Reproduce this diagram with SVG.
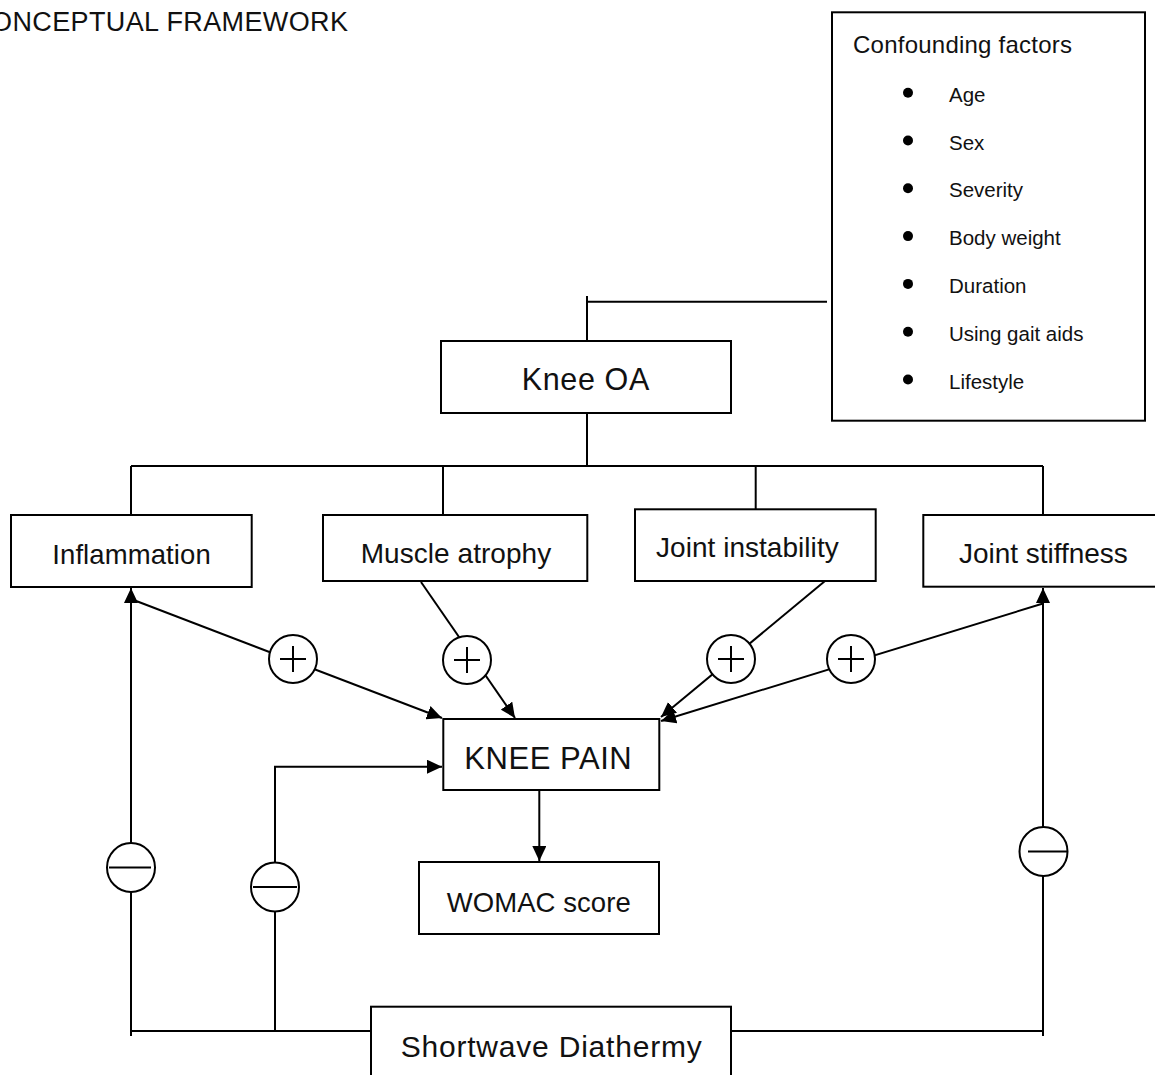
<svg xmlns="http://www.w3.org/2000/svg" width="1155" height="1075" viewBox="0 0 1155 1075">
<defs>
<marker id="arr" markerUnits="userSpaceOnUse" markerWidth="16" markerHeight="14" refX="15" refY="7" orient="auto">
<path d="M0,0 L15,7 L0,14 z" fill="#000"/>
</marker>
<style>
.box{fill:#fff;stroke:#000;stroke-width:2}
.ln{fill:none;stroke:#000;stroke-width:2}
.sg{fill:#fff;stroke:#000;stroke-width:2}
.sym{stroke:#000;stroke-width:2}
.t{font-family:"Liberation Sans",Arial,sans-serif;fill:#111}
</style>
</defs>
<rect width="1155" height="1075" fill="#fff"/>
<text class="t" x="-9" y="30.7" font-size="27" textLength="357">ONCEPTUAL FRAMEWORK</text>

<g id="connectors">
<polyline class="ln" points="587,296 587,341"/>
<line class="ln" x1="587" y1="301.7" x2="827" y2="301.7"/>
<line class="ln" x1="587" y1="413" x2="587" y2="466"/>
<line class="ln" x1="131" y1="466" x2="1043" y2="466"/>
<line class="ln" x1="131" y1="466" x2="131" y2="515"/>
<line class="ln" x1="443" y1="466" x2="443" y2="515"/>
<line class="ln" x1="755.7" y1="466" x2="755.7" y2="514"/>
<line class="ln" x1="1043" y1="466" x2="1043" y2="515"/>
<line class="ln" x1="131" y1="1036" x2="131" y2="588" marker-end="url(#arr)"/>
<line class="ln" x1="1043" y1="1036" x2="1043" y2="588" marker-end="url(#arr)"/>
<line class="ln" x1="131" y1="599" x2="442" y2="718" marker-end="url(#arr)"/>
<line class="ln" x1="421" y1="582" x2="515" y2="718" marker-end="url(#arr)"/>
<line class="ln" x1="825" y1="581" x2="661" y2="717" marker-end="url(#arr)"/>
<line class="ln" x1="1043" y1="603.5" x2="661" y2="721" marker-end="url(#arr)"/>
<polyline class="ln" points="275,1031 275,766.7 442,766.7" marker-end="url(#arr)"/>
<line class="ln" x1="539.3" y1="790" x2="539.3" y2="861" marker-end="url(#arr)"/>
<line class="ln" x1="131" y1="1031" x2="371" y2="1031"/>
<line class="ln" x1="731" y1="1031" x2="1043" y2="1031"/>
</g>

<g id="confounding">
<rect class="box" x="832" y="12.3" width="313" height="408.4"/>
<text class="t" x="853" y="53.3" font-size="24" textLength="219">Confounding factors</text>
<g fill="#000">
<circle cx="908" cy="92.7" r="5"/>
<circle cx="908" cy="140.5" r="5"/>
<circle cx="908" cy="188.3" r="5"/>
<circle cx="908" cy="236.1" r="5"/>
<circle cx="908" cy="283.9" r="5"/>
<circle cx="908" cy="331.7" r="5"/>
<circle cx="908" cy="379.5" r="5"/>
</g>
<g class="t" font-size="20.5">
<text x="949" y="101.7">Age</text>
<text x="949" y="149.5">Sex</text>
<text x="949" y="197.3">Severity</text>
<text x="949" y="245.1">Body weight</text>
<text x="949" y="292.9">Duration</text>
<text x="949" y="340.7">Using gait aids</text>
<text x="949" y="388.5">Lifestyle</text>
</g>
</g>

<g id="knee-oa">
<rect class="box" x="441" y="341" width="290" height="72"/>
<text class="t" x="521.7" y="390" font-size="30.5" textLength="127.6">Knee OA</text>
</g>

<g id="inflammation">
<rect class="box" x="11" y="515" width="240.7" height="72"/>
<text class="t" x="52.3" y="564.3" font-size="27.5" textLength="158.4">Inflammation</text>
</g>

<g id="muscle-atrophy">
<rect class="box" x="323" y="515" width="264.3" height="66"/>
<text class="t" x="360.7" y="563.3" font-size="28" textLength="190.5">Muscle atrophy</text>
</g>

<g id="joint-instability">
<rect class="box" x="635" y="509.3" width="240.7" height="71.7"/>
<text class="t" x="656" y="557.3" font-size="28" textLength="182.7">Joint instability</text>
</g>

<g id="joint-stiffness">
<rect class="box" x="923.3" y="515" width="240" height="71.7"/>
<text class="t" x="959" y="563.3" font-size="28" textLength="168.7">Joint stiffness</text>
</g>

<g id="knee-pain">
<rect class="box" x="443.3" y="719" width="216" height="71"/>
<text class="t" x="464.3" y="769" font-size="31" textLength="167.4">KNEE PAIN</text>
</g>

<g id="womac">
<rect class="box" x="419" y="862" width="240" height="72"/>
<text class="t" x="446.7" y="911.7" font-size="27.5" textLength="184">WOMAC score</text>
</g>

<g id="shortwave">
<rect class="box" x="371" y="1006.7" width="360" height="80"/>
<text class="t" x="400.7" y="1056.7" font-size="30" textLength="301">Shortwave Diathermy</text>
</g>

<g id="plus-inflammation">
<circle class="sg" cx="293" cy="659" r="24"/>
<path class="sym" d="M280,659 H306 M293,646 V672"/>
</g>
<g id="plus-muscle">
<circle class="sg" cx="467" cy="660" r="24"/>
<path class="sym" d="M454,660 H480 M467,647 V673"/>
</g>
<g id="plus-instability">
<circle class="sg" cx="731" cy="659" r="24"/>
<path class="sym" d="M718,659 H744 M731,646 V672"/>
</g>
<g id="plus-stiffness">
<circle class="sg" cx="851" cy="659" r="24"/>
<path class="sym" d="M838,659 H864 M851,646 V672"/>
</g>
<g id="minus-inflammation">
<ellipse class="sg" cx="131" cy="867.5" rx="24" ry="24.5"/>
<path class="sym" d="M109,867.5 H151"/>
</g>
<g id="minus-pain">
<ellipse class="sg" cx="275" cy="887" rx="24" ry="24.5"/>
<path class="sym" d="M253,887 H297"/>
</g>
<g id="minus-stiffness">
<ellipse class="sg" cx="1043.5" cy="851.5" rx="24" ry="24.5"/>
<path class="sym" d="M1028,851.5 H1067"/>
</g>
</svg>
